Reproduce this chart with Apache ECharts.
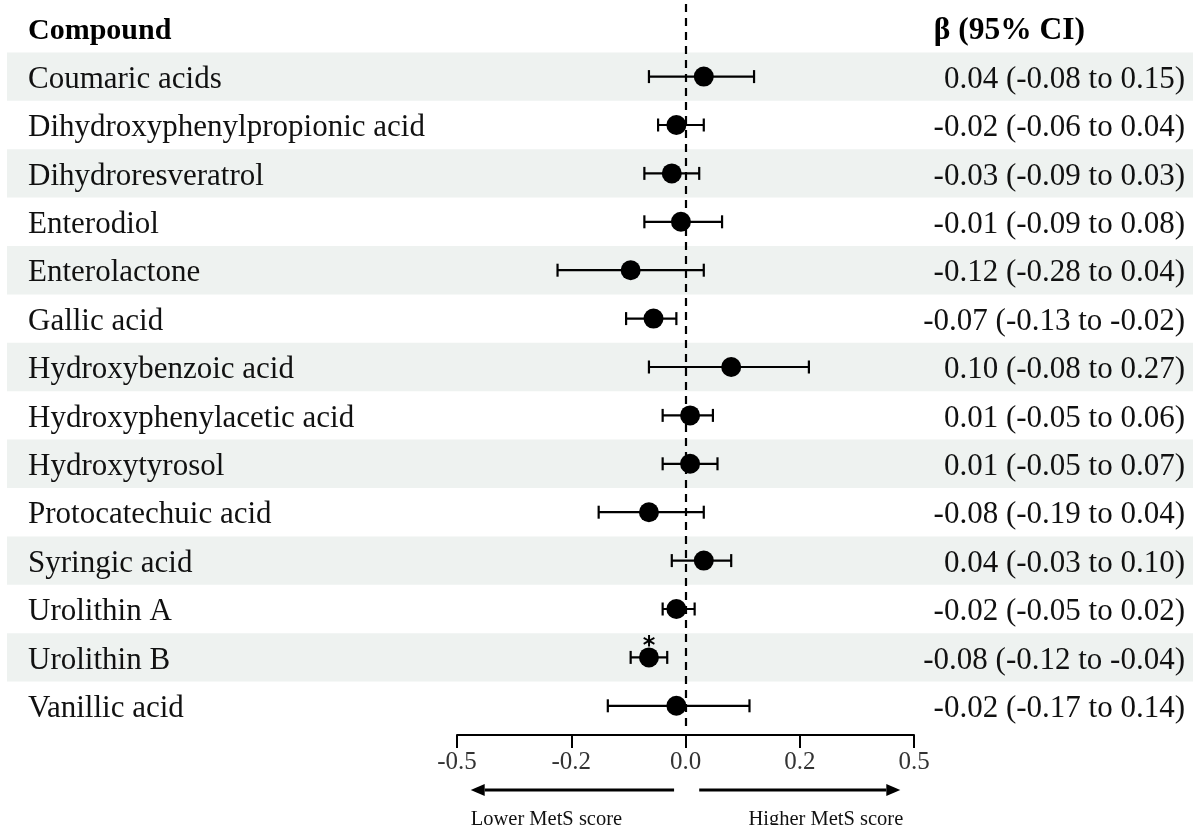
<!DOCTYPE html>
<html>
<head>
<meta charset="utf-8">
<script src="https://cdn.jsdelivr.net/npm/echarts@6/dist/echarts.min.js"></script>
<style>html,body{margin:0;padding:0;background:#fff}#c{width:1193px;height:825px}</style>
</head>
<body>
<div id="c"></div>
<script>
const compounds = ['Coumaric acids','Dihydroxyphenylpropionic acid','Dihydroresveratrol','Enterodiol','Enterolactone','Gallic acid','Hydroxybenzoic acid','Hydroxyphenylacetic acid','Hydroxytyrosol','Protocatechuic acid','Syringic acid','Urolithin A','Urolithin B','Vanillic acid'];
const estimates = [0.04,-0.02,-0.03,-0.01,-0.12,-0.07,0.10,0.01,0.01,-0.08,0.04,-0.02,-0.08,-0.02];
const lower = [-0.08,-0.06,-0.09,-0.09,-0.28,-0.13,-0.08,-0.05,-0.05,-0.19,-0.03,-0.05,-0.12,-0.17];
const upper = [0.15,0.04,0.03,0.08,0.04,-0.02,0.27,0.06,0.07,0.04,0.10,0.02,-0.04,0.14];
const significant = [false,false,false,false,false,false,false,false,false,false,false,false,true,false];
const tickLabels = ['-0.5','-0.2','0.0','0.2','0.5'];
const headerLeft = 'Compound';
const headerRight = 'β (95% CI)';
const arrowLeftText = 'Lower MetS score';
const arrowRightText = 'Higher MetS score';

const FONT = '"Liberation Serif","Times New Roman",serif';
const cats = [''].concat(compounds);
const fmt = v => v.toFixed(2);
const ciText = compounds.map((c,i)=> fmt(estimates[i]) + ' (' + fmt(lower[i]) + ' to ' + fmt(upper[i]) + ')');

const bandData = compounds.map((c,i)=> i%2===0 ? [0, i+1] : null).filter(Boolean);
const errData = compounds.map((c,i)=> [lower[i], upper[i], i+1]);
const ptData = compounds.map((c,i)=> ({value:[estimates[i], i+1], label:{show:significant[i]}}));

const chart = echarts.init(document.getElementById('c'));
const option = {
  animation:false,
  grid:{left:457, right:279, top:4, bottom:95},
  xAxis:{type:'value', min:-0.5, max:0.5, interval:0.25, offset:5,
    axisLine:{show:true, lineStyle:{color:'#000', width:2}},
    axisTick:{show:true, length:13, lineStyle:{color:'#000', width:2}},
    splitLine:{show:false},
    axisLabel:{fontFamily:FONT, fontSize:25, color:'#333', margin:15,
      formatter: v => tickLabels[Math.round((v+0.5)/0.25)]}
  },
  yAxis:[
    {type:'category', inverse:true, data:cats,
     axisLine:{show:false}, axisTick:{show:false}, splitLine:{show:false},
     axisLabel:{align:'left', margin:429, fontFamily:FONT, fontSize:31, color:'#111', padding:[6,0,0,0],
       formatter:(v,i)=> i===0 ? '{h|'+headerLeft+'}' : v,
       rich:{h:{fontFamily:FONT, fontSize:30, fontWeight:'bold', color:'#000'}}}
    },
    {type:'category', inverse:true, position:'right', data:cats,
     axisLine:{show:false}, axisTick:{show:false}, splitLine:{show:false},
     axisLabel:{align:'right', margin:271, fontFamily:FONT, fontSize:31, color:'#111', padding:[6,0,0,0],
       formatter:(v,i)=> i===0 ? '{h|'+headerRight+'}' : ciText[i-1],
       rich:{h:{fontFamily:FONT, fontSize:31.5, fontWeight:'bold', color:'#000', padding:[0,100,0,0]}}}
    }
  ],
  series:[
    {type:'custom', z:0, clip:false, silent:true, data:bandData, encode:{x:0,y:1},
     renderItem:(params, api)=>{
       const y = api.coord([0, api.value(1)])[1];
       const h = api.size([0,1])[1];
       return {type:'rect', shape:{x:7, y:y-h/2, width:api.getWidth()-7, height:h}, style:{fill:'#eef2f0'}};
     }},
    {type:'custom', z:3, silent:true, data:errData, encode:{x:[0,1], y:2},
     renderItem:(params, api)=>{
       const p1 = api.coord([api.value(0), api.value(2)]);
       const p2 = api.coord([api.value(1), api.value(2)]);
       const c = 6.5;
       const st = {stroke:'#000', lineWidth:2.2};
       return {type:'group', children:[
         {type:'line', shape:{x1:p1[0], y1:p1[1], x2:p2[0], y2:p2[1]}, style:st},
         {type:'line', shape:{x1:p1[0], y1:p1[1]-c, x2:p1[0], y2:p1[1]+c}, style:st},
         {type:'line', shape:{x1:p2[0], y1:p2[1]-c, x2:p2[0], y2:p2[1]+c}, style:st}
       ]};
     }},
    {type:'scatter', z:4, data:ptData, symbolSize:20, itemStyle:{color:'#000', opacity:1},
     label:{show:false, position:'inside', offset:[0,-11], formatter:'*', fontFamily:'DejaVu Sans', fontWeight:'bold', fontSize:24, color:'#000'},
     markLine:{silent:true, symbol:['none','none'], label:{show:false},
       lineStyle:{type:[8,6], color:'#000', width:2.2, opacity:1},
       data:[{xAxis:0}]}
    }
  ]
};
chart.setOption(option);

const px = v => chart.convertToPixel({xAxisIndex:0}, v);
const ay = 790;
const lx1 = px(-0.025), lx2 = px(-0.47), rx1 = px(0.03), rx2 = px(0.47);
const ah = 14, aw = 6;
chart.setOption({graphic:[
  {type:'line', shape:{x1:lx1, y1:ay, x2:lx2+ah, y2:ay}, style:{stroke:'#000', lineWidth:3}},
  {type:'polygon', shape:{points:[[lx2,ay],[lx2+ah,ay-aw],[lx2+ah,ay+aw]]}, style:{fill:'#000'}},
  {type:'line', shape:{x1:rx1, y1:ay, x2:rx2-ah, y2:ay}, style:{stroke:'#000', lineWidth:3}},
  {type:'polygon', shape:{points:[[rx2,ay],[rx2-ah,ay-aw],[rx2-ah,ay+aw]]}, style:{fill:'#000'}},
  {type:'text', x:lx2, y:809, style:{text:arrowLeftText, font:'20.5px '+FONT, fill:'#111', textAlign:'left', textVerticalAlign:'top'}},
  {type:'text', x:rx2+3, y:809, style:{text:arrowRightText, font:'20.5px '+FONT, fill:'#111', textAlign:'right', textVerticalAlign:'top'}}
]});
</script>
</body>
</html>
